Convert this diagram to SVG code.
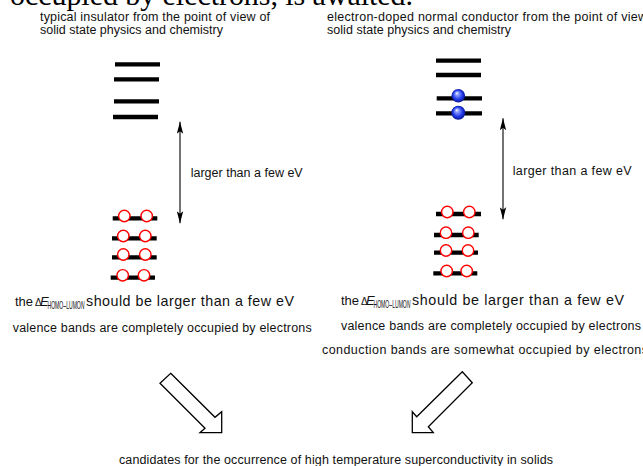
<svg xmlns="http://www.w3.org/2000/svg" width="643" height="466" viewBox="0 0 643 466">
  <style>
    .lbl { font-family: "Liberation Sans", Arial, sans-serif; font-size: 12.5px; fill: #111; }
    .sub { font-family: "Liberation Sans", Arial, sans-serif; font-size: 10.5px; fill: #111; }
    .big { font-family: "Liberation Serif", "Times New Roman", serif; font-size: 30px; fill: #000; }
    .bar { stroke: #000; stroke-width: 4.3; fill: none; }
    .hole { fill: #fff; stroke: #f00; stroke-width: 1.4; }
    .elec { fill: url(#ball); stroke: none; }
    .gap { stroke: #000; stroke-width: 1.1; fill: none; marker-start: url(#tip); marker-end: url(#tip); }
    .fat { fill: #fff; stroke: #000; stroke-width: 1.3; stroke-linejoin: miter; }
  </style>
  <defs>
    <radialGradient id="ball" cx="0.5" cy="0.5" r="0.5" fx="0.38" fy="0.3">
      <stop offset="0" stop-color="#ffffff"/>
      <stop offset="0.25" stop-color="#8c9cff"/>
      <stop offset="0.7" stop-color="#1f36e6"/>
      <stop offset="1" stop-color="#0a1590"/>
    </radialGradient>
    <marker id="tip" viewBox="0 0 12 7" refX="12" refY="3.5" markerWidth="12" markerHeight="7" markerUnits="userSpaceOnUse" orient="auto-start-reverse">
      <path d="M0,0.3 L12,3.5 L0,6.7 L2.5,3.5 z" fill="#000"/>
    </marker>
  </defs>
  <rect width="643" height="466" fill="#fff"/>

  <!-- running text from the page above -->
  <text class="big" x="10" y="5" textLength="403" lengthAdjust="spacing">occupied by electrons, is awaited.</text>

  <!-- insulator panel -->
  <g id="insulator">
    <text class="lbl" x="40" y="21" textLength="230" lengthAdjust="spacing">typical insulator from the point of view of</text>
    <text class="lbl" x="40" y="33.5" textLength="183" lengthAdjust="spacing">solid state physics and chemistry</text>
    <g id="insulator-empty-levels">
      <line class="bar" x1="115" y1="64.3" x2="160" y2="64.3"/>
      <line class="bar" x1="114" y1="79.3" x2="159" y2="79.3"/>
      <line class="bar" x1="114" y1="101.3" x2="159" y2="101.3"/>
      <line class="bar" x1="113" y1="117" x2="158" y2="117"/>
    </g>
    <g id="insulator-filled-levels">
      <line class="bar" x1="112.7" y1="218.3" x2="157.3" y2="218.3"/>
      <line class="bar" x1="112" y1="238.3" x2="156.7" y2="238.3"/>
      <line class="bar" x1="112" y1="257.3" x2="156.7" y2="257.3"/>
      <line class="bar" x1="110.7" y1="277.7" x2="155" y2="277.7"/>
      <circle class="hole" cx="124.3" cy="216" r="5.7"/>
      <circle class="hole" cx="146.7" cy="216" r="5.7"/>
      <circle class="hole" cx="123.3" cy="236" r="5.7"/>
      <circle class="hole" cx="145.3" cy="236" r="5.7"/>
      <circle class="hole" cx="123.3" cy="254.5" r="5.7"/>
      <circle class="hole" cx="145.3" cy="254.5" r="5.7"/>
      <circle class="hole" cx="122.7" cy="275.3" r="5.7"/>
      <circle class="hole" cx="144" cy="275.3" r="5.7"/>
    </g>
    <text class="lbl" x="190.7" y="176.5" textLength="112" lengthAdjust="spacing">larger than a few eV</text>
    <g id="insulator-notes">
      <text class="lbl" x="15" y="306" style="font-size:13px">the</text>
      <text class="lbl" x="35" y="306" style="font-size:10px">Δ</text>
      <text class="lbl" x="40" y="306" style="font-size:13px;font-style:italic">E</text>
      <text class="sub" x="47.5" y="309" textLength="37" lengthAdjust="spacingAndGlyphs">HOMO–LUMO<tspan font-style="italic">N</tspan></text>
      <text class="lbl" x="86" y="306" style="font-size:14.3px" textLength="208" lengthAdjust="spacing">should be larger than a few eV</text>
      <text class="lbl" x="12.7" y="332" textLength="299" lengthAdjust="spacing">valence bands are completely occupied by electrons</text>
    </g>
  </g>

  <!-- electron-doped conductor panel -->
  <g id="conductor">
    <text class="lbl" x="327" y="21" textLength="320" lengthAdjust="spacing">electron-doped normal conductor from the point of view</text>
    <text class="lbl" x="327" y="33.5" textLength="184" lengthAdjust="spacing">solid state physics and chemistry</text>
    <g id="conductor-upper-levels">
      <line class="bar" x1="436" y1="60.7" x2="481" y2="60.7"/>
      <line class="bar" x1="436" y1="75" x2="481" y2="75"/>
      <line class="bar" x1="436.7" y1="98.3" x2="482" y2="98.3"/>
      <line class="bar" x1="436" y1="113.3" x2="482" y2="113.3"/>
      <circle class="elec" cx="458.3" cy="95.7" r="6.8"/>
      <circle class="elec" cx="458.3" cy="112.7" r="7"/>
    </g>
    <g id="conductor-filled-levels">
      <line class="bar" x1="436" y1="214" x2="481" y2="214"/>
      <line class="bar" x1="434" y1="235" x2="478.7" y2="235"/>
      <line class="bar" x1="434" y1="252.7" x2="478" y2="252.7"/>
      <line class="bar" x1="433.3" y1="273.3" x2="477.3" y2="273.3"/>
      <circle class="hole" cx="447.3" cy="212" r="5.7"/>
      <circle class="hole" cx="469.3" cy="212" r="5.7"/>
      <circle class="hole" cx="446" cy="232.7" r="5.7"/>
      <circle class="hole" cx="468.3" cy="232.7" r="5.7"/>
      <circle class="hole" cx="446" cy="250.5" r="5.7"/>
      <circle class="hole" cx="468" cy="250.5" r="5.7"/>
      <circle class="hole" cx="446.7" cy="271" r="5.7"/>
      <circle class="hole" cx="466.7" cy="271" r="5.7"/>
    </g>
    <text class="lbl" x="512.7" y="175" textLength="119" lengthAdjust="spacing">larger than a few eV</text>
    <g id="conductor-notes">
      <text class="lbl" x="341" y="305" style="font-size:13px">the</text>
      <text class="lbl" x="361" y="305" style="font-size:10px">Δ</text>
      <text class="lbl" x="366" y="305" style="font-size:13px;font-style:italic">E</text>
      <text class="sub" x="373.5" y="308" textLength="37" lengthAdjust="spacingAndGlyphs">HOMO–LUMO<tspan font-style="italic">N</tspan></text>
      <text class="lbl" x="412" y="305" style="font-size:14.3px" textLength="212" lengthAdjust="spacing">should be larger than a few eV</text>
      <text class="lbl" x="341" y="330" textLength="300" lengthAdjust="spacing">valence bands are completely occupied by electrons</text>
      <text class="lbl" x="322" y="354" textLength="326" lengthAdjust="spacing">conduction bands are somewhat occupied by electrons</text>
    </g>
  </g>

  <!-- conclusion -->
  <g id="conclusion">
    <text class="lbl" x="119" y="464" textLength="434" lengthAdjust="spacing">candidates for the occurrence of high temperature superconductivity in solids</text>
  </g>

  <!-- gap arrows and the two block arrows leading to the conclusion -->
  <g id="connectors">
    <line class="gap" x1="180" y1="121.7" x2="180" y2="223.3"/>
    <line class="gap" x1="503" y1="118.3" x2="503" y2="219.3"/>
    <polygon class="fat" points="170.7,373.3 215,417.3 221.7,411.7 221.7,432.7 200,432.7 205,428.3 160,383.3"/>
    <polygon class="fat" points="462.3,371.7 416.7,416.7 412.3,411.7 412.3,432.7 433.3,432.7 428.3,426.7 472.3,382.7"/>
  </g>
</svg>
